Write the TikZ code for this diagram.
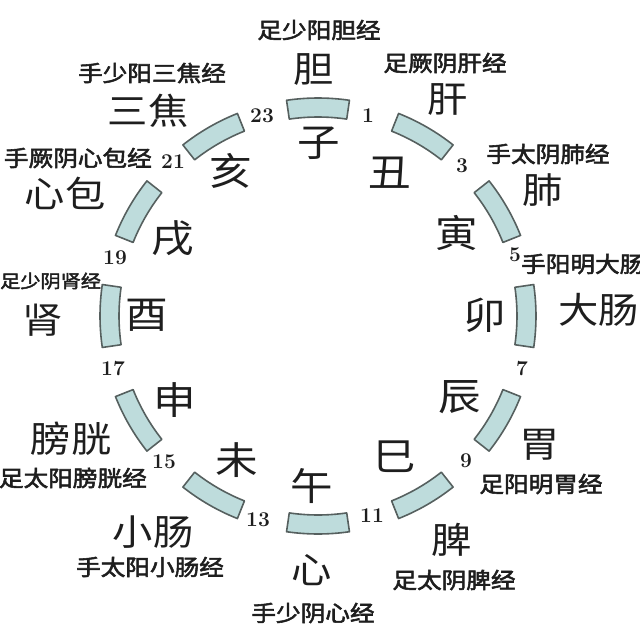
\documentclass[tikz,border=0pt]{standalone}
\usepackage{fontspec}
\usepackage{xcolor}
\usetikzlibrary{calc}
\newfontfamily\cjk[FakeStretch=1.12]{Noto Sans CJK SC}
\newfontfamily\cjkm[FakeStretch=1.12,FakeBold=2.5]{Noto Sans CJK SC}
\definecolor{segfill}{HTML}{BEDCDC}
\definecolor{segline}{HTML}{56605F}
\definecolor{ink}{HTML}{1E1E1E}
\tikzset{
  seg/.style={draw=segline,fill=segfill,line width=1.6pt,line join=round},
  branch/.style={font=\cjk\fontsize{38}{38}\selectfont,text=ink,inner sep=0pt},
  organ/.style={font=\cjk\fontsize{36}{36}\selectfont,text=ink,inner sep=0pt},
  meridian/.style={font=\cjkm\fontsize{22}{22}\selectfont,text=ink,inner sep=0pt},
  hour/.style={font=\bfseries\fontsize{21}{21}\selectfont,text=ink,inner sep=0pt}
}
\begin{document}
\begin{tikzpicture}[x=1pt,y=-1pt]
  \useasboundingbox (0,0) rectangle (640,640);
  \coordinate (c) at (318,316);
  % twelve bars, zi at the top, going clockwise
  \foreach \k in {0,...,11} {
    \pgfmathsetmacro\a{30*\k-90}
    \draw[seg] ($(c)+(\a-8.3:218)$) arc[start angle=\a-8.3,end angle=\a+8.3,radius=218]
      -- ($(c)+(\a+8.3:199)$) arc[start angle=\a+8.3,end angle=\a-8.3,radius=199] -- cycle;
  }
  \foreach \n/\x/\y in {1/368/116,3/462/166,5/515/255,7/522/369,9/466/461,11/372/516,
                        13/258/520,15/164/462,17/113/369,19/115/258,21/173/162,23/262/116} {
    \node[hour] (h\n) at (\x,\y) {\n};
  }
  % branches
  \foreach \nm/\x/\y/\t in {zi/319/143/子,chou/390/173/丑,yin/457/233/寅,mao/485/315/卯,
                            chen/460/397/辰,si/395/457/巳,wu/312/486/午,wei/237/460/未,
                            shen/175/400/申,you/147/315/酉,xu/173/238/戌,hai/231/171/亥} {
    \node[branch] (b-\nm) at (\x,\y) {\t};
  }
  % organs
  \node[organ] (o-dan) at (314,70) {胆};
  \node[organ] (o-gan) at (448,100) {肝};
  \node[organ] (o-fei) at (543,190) {肺};
  \node[organ,anchor=west] (o-dachang) at (558,310) {大肠};
  \node[organ] (o-weii) at (540,445) {胃};
  \node[organ] (o-pi) at (452,540) {脾};
  \node[organ] (o-xin) at (312,570) {心};
  \node[organ] (o-xiaochang) at (153,532) {小肠};
  \node[organ] (o-pangguang) at (71,439) {膀胱};
  \node[organ] (o-shen) at (43,320) {肾};
  \node[organ] (o-xinbao) at (65,193) {心包};
  \node[organ] (o-sanjiao) at (148,111) {三焦};
  % meridians
  \node[meridian] (m-dan) at (319,30) {足少阳胆经};
  \node[meridian] (m-gan) at (445,63) {足厥阴肝经};
  \node[meridian] (m-fei) at (548,154) {手太阴肺经};
  \node[meridian,anchor=west] (m-dachang) at (521,264) {手阳明大肠经};
  \node[meridian] (m-weii) at (541,484) {足阳明胃经};
  \node[meridian] (m-pi) at (454,580) {足太阴脾经};
  \node[meridian] (m-xin) at (313,613) {手少阴心经};
  \node[meridian] (m-xiaochang) at (150,567) {手太阳小肠经};
  \node[meridian,anchor=east] (m-pangguang) at (147,478) {足太阳膀胱经};
  \node[meridian,anchor=west,font=\cjkm\fontsize{18}{18}\selectfont] (m-shen) at (0,281) {足少阴肾经};
  \node[meridian,anchor=east] (m-xinbao) at (152,158) {手厥阴心包经};
  \node[meridian] (m-sanjiao) at (152,73) {手少阳三焦经};
\end{tikzpicture}
\end{document}
